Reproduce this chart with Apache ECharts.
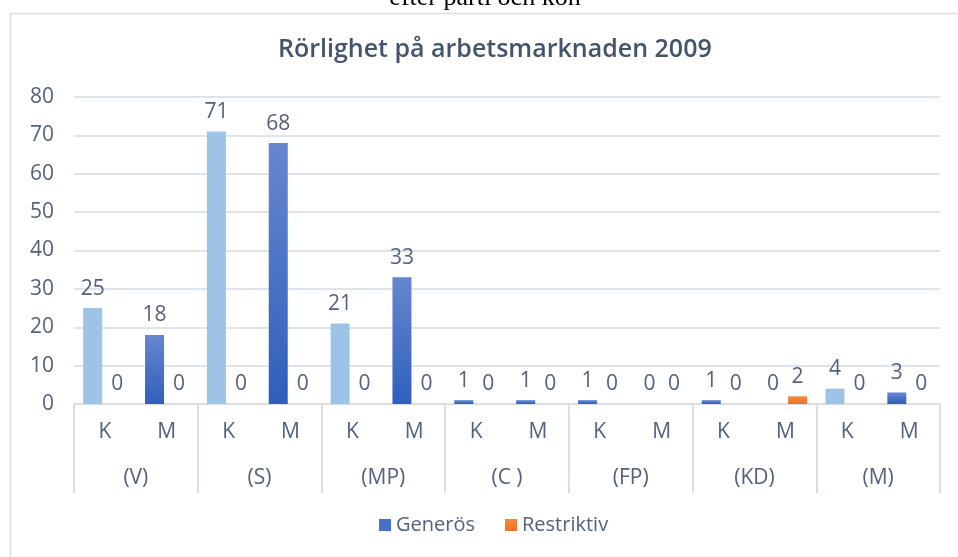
<!DOCTYPE html>
<html>
<head>
<meta charset="utf-8">
<script src="https://cdn.jsdelivr.net/npm/echarts@6/dist/echarts.min.js"></script>
<style>
  html, body { margin: 0; padding: 0; background: #fff; }
  #chart { width: 958px; height: 557px; }
</style>
</head>
<body>
<div id="chart"></div>
<script>
// Rörlighet på arbetsmarknaden 2009 - efter parti och kön
const kon = ['K', 'M', 'K', 'M', 'K', 'M', 'K', 'M', 'K', 'M', 'K', 'M', 'K', 'M'];
const partier = ['(V)', '(S)', '(MP)', '(C )', '(FP)', '(KD)', '(M)'];
const generos = [25, 18, 71, 68, 21, 33, 1, 1, 1, 0, 1, 0, 4, 3];
const restriktiv = [0, 0, 0, 0, 0, 0, 0, 0, 0, 0, 0, 2, 0, 0];
const yTicks = [0, 10, 20, 30, 40, 50, 60, 70, 80];

// staplar som är ljusblå i originalet
const ljusaStaplar = [0, 2, 4, 12];

const textFarg = '#55627a';
const font = 'Open Sans';

const chart = echarts.init(document.getElementById('chart'));

const blaGradient = new echarts.graphic.LinearGradient(0, 0, 0, 1, [
    { offset: 0, color: '#6687cf' },
    { offset: 1, color: '#2f5fbb' }
]);
const orangeGradient = new echarts.graphic.LinearGradient(0, 0, 0, 1, [
    { offset: 0, color: '#f4893c' },
    { offset: 1, color: '#ea7325' }
]);

const etikett = {
    show: true,
    position: 'top',
    distance: 9,
    color: textFarg,
    fontFamily: font,
    fontSize: 21
};

const option = {
    animation: false,
    backgroundColor: '#fff',
    title: {
        text: 'Rörlighet på arbetsmarknaden 2009',
        left: 273,
        top: 32,
        textStyle: {
            color: '#44546a',
            fontFamily: font,
            fontWeight: 600,
            fontSize: 25
        }
    },
    graphic: [
        {
            type: 'rect',
            shape: { x: 10.5, y: 13.5, width: 960, height: 560 },
            style: { fill: 'none', stroke: '#d9dee5', lineWidth: 1.5 },
            silent: true
        },
        {
            type: 'text',
            x: 485,
            y: 11,
            style: {
                text: 'efter parti och kön',
                textAlign: 'center',
                verticalAlign: 'bottom',
                font: '26px "Liberation Serif", serif',
                fill: '#000'
            },
            silent: true,
            z: -1
        }
    ],
    legend: {
        data: ['Generös', 'Restriktiv'],
        bottom: 17,
        left: 374,
        itemWidth: 12,
        itemHeight: 12,
        itemGap: 30,
        icon: 'rect',
        textStyle: { color: textFarg, fontFamily: font, fontSize: 20 }
    },
    grid: {
        left: 74,
        right: 18,
        top: 97,
        bottom: 153
    },
    xAxis: [
        {
            type: 'category',
            data: kon,
            position: 'bottom',
            axisLine: { lineStyle: { color: '#d9dee5', width: 2 } },
            axisTick: { show: false },
            axisLabel: {
                color: textFarg,
                fontFamily: font,
                fontSize: 21,
                margin: 18,
                interval: 0
            }
        },
        {
            type: 'category',
            data: partier,
            position: 'bottom',
            axisLine: { show: false },
            axisTick: {
                show: true,
                length: 89,
                inside: false,
                lineStyle: { color: '#d9dee5', width: 2 }
            },
            axisLabel: {
                color: textFarg,
                fontFamily: font,
                fontSize: 21,
                margin: 64,
                interval: 0
            }
        }
    ],
    yAxis: {
        type: 'value',
        min: yTicks[0],
        max: yTicks[yTicks.length - 1],
        interval: 10,
        axisLine: { show: false },
        axisTick: { show: false },
        axisLabel: {
            color: textFarg,
            fontFamily: font,
            fontSize: 21,
            margin: 20
        },
        splitLine: { lineStyle: { color: '#dfe3ea', width: 2 } }
    },
    series: [
        {
            name: 'Generös',
            type: 'bar',
            xAxisIndex: 0,
            data: generos,
            barWidth: 19,
            barGap: '29%',
            itemStyle: {
                color: function (p) {
                    return ljusaStaplar.indexOf(p.dataIndex) >= 0 ? '#9dc3e6' : blaGradient;
                }
            },
            label: etikett
        },
        {
            name: 'Restriktiv',
            type: 'bar',
            xAxisIndex: 0,
            data: restriktiv,
            barWidth: 19,
            barGap: '29%',
            itemStyle: { color: orangeGradient },
            label: etikett
        }
    ]
};

// legendikonerna ska vara enfärgade
option.series[0].color = '#4472c4';
option.series[1].color = '#ed7d31';

chart.setOption(option);

window.addEventListener('resize', function () {
    chart.resize();
});
</script>
</body>
</html>
